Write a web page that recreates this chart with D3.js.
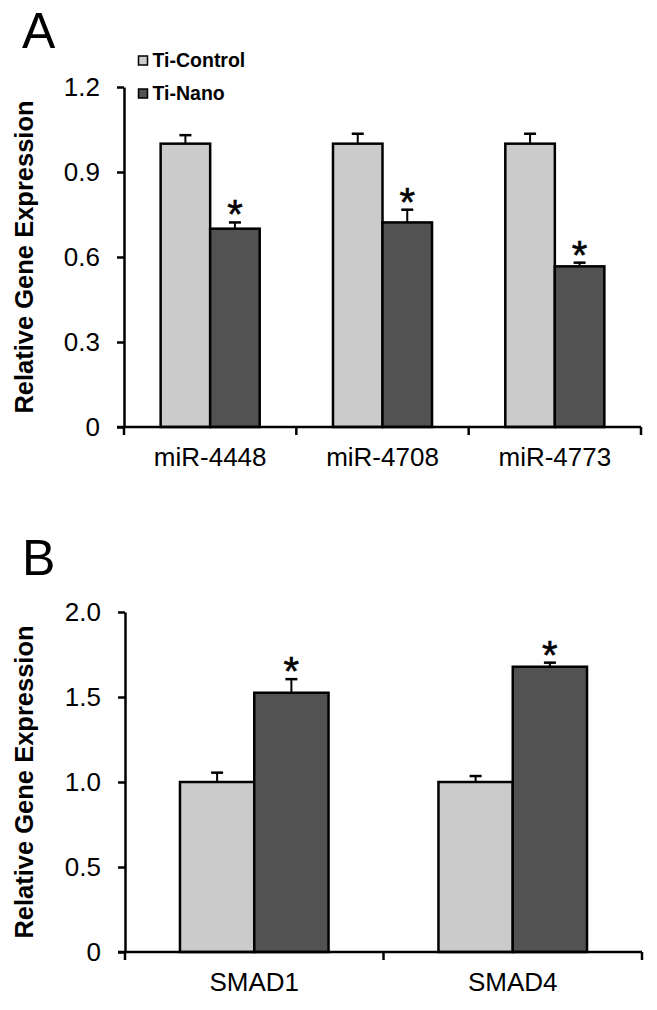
<!DOCTYPE html>
<html><head><meta charset="utf-8">
<script src="https://cdn.jsdelivr.net/npm/d3@7"></script>
<style>
html,body{margin:0;padding:0;background:#fff;}
svg{display:block;font-family:"Liberation Sans",Arial,sans-serif;}
</style></head>
<body>
<svg id="chart" width="657" height="1010"></svg>
<script>
// ---- Data ----
const seriesNames = ["Ti-Control", "Ti-Nano"];
const seriesColors = ["#cbcbcb", "#525252"];

const catsA = ["miR-4448", "miR-4708", "miR-4773"];
const ctrlA = [1.0, 1.0, 1.0];
const ctrlErrA = [0.03, 0.035, 0.035];
const nanoA = [0.70, 0.722, 0.567];
const nanoErrA = [0.022, 0.045, 0.013];
const sigA = [true, true, true];
const ticksA = [0, 0.3, 0.6, 0.9, 1.2];
const tickLabelsA = ["0", "0.3", "0.6", "0.9", "1.2"];

const catsB = ["SMAD1", "SMAD4"];
const ctrlB = [1.0, 1.0];
const ctrlErrB = [0.055, 0.035];
const nanoB = [1.525, 1.678];
const nanoErrB = [0.08, 0.024];
const sigB = [true, true];
const ticksB = [0, 0.5, 1.0, 1.5, 2.0];
const tickLabelsB = ["0", "0.5", "1.0", "1.5", "2.0"];

const yTitle = "Relative Gene Expression";

const svg = d3.select("#chart");

function panel(opts) {
  const {letter, letterY, cats, ctrl, ctrlErr, nano, nanoErr, sig, ticks, tickLabels,
         xRange, yRange, yMax, legend} = opts;
  const g = svg.append("g");
  const x0 = d3.scaleBand().domain(cats).range(xRange).paddingInner(0).paddingOuter(0);
  const x1 = d3.scaleBand().domain(seriesNames).range([0, x0.bandwidth()]).paddingInner(0).paddingOuter(0.74);
  const y = d3.scaleLinear().domain([0, yMax]).range(yRange);

  // panel letter
  g.append("text").attr("x", 22).attr("y", letterY).attr("font-size", 50).attr("fill", "#000").text(letter);

  // y title
  g.append("text")
    .attr("transform", `translate(33,${(yRange[0] + yRange[1]) / 2}) rotate(-90)`)
    .attr("text-anchor", "middle").attr("font-size", 25.5).attr("font-weight", "bold").text(yTitle);

  // bars
  const rows = cats.map((c, i) => ({c, vals: [
    {s: seriesNames[0], v: ctrl[i], e: ctrlErr[i], sig: false, col: seriesColors[0]},
    {s: seriesNames[1], v: nano[i], e: nanoErr[i], sig: sig[i], col: seriesColors[1]}
  ]}));
  const grp = g.selectAll(".grp").data(rows).join("g")
    .attr("transform", d => `translate(${x0(d.c)},0)`);
  const item = grp.selectAll(".it").data(d => d.vals).join("g");
  // error bars
  item.append("line")
    .attr("x1", d => x1(d.s) + x1.bandwidth() / 2).attr("x2", d => x1(d.s) + x1.bandwidth() / 2)
    .attr("y1", d => y(d.v)).attr("y2", d => y(d.v + d.e))
    .attr("stroke", "#000").attr("stroke-width", 2);
  item.append("line")
    .attr("x1", d => x1(d.s) + x1.bandwidth() / 2 - 6).attr("x2", d => x1(d.s) + x1.bandwidth() / 2 + 6)
    .attr("y1", d => y(d.v + d.e)).attr("y2", d => y(d.v + d.e))
    .attr("stroke", "#000").attr("stroke-width", 2.5);
  item.append("rect")
    .attr("x", d => x1(d.s)).attr("width", x1.bandwidth())
    .attr("y", d => y(d.v)).attr("height", d => y(0) - y(d.v))
    .attr("fill", d => d.col).attr("stroke", "#000").attr("stroke-width", 2.5);
  item.filter(d => d.sig).append("text")
    .attr("x", d => x1(d.s) + x1.bandwidth() / 2)
    .attr("y", d => y(d.v + d.e) + 6)
    .attr("text-anchor", "middle").attr("font-size", 40)
    .attr("stroke", "#000").attr("stroke-width", 0.6).text("*");

  // y axis
  const ya = d3.axisLeft(y).tickValues(ticks).tickFormat((d, i) => tickLabels[i])
    .tickSize(7).tickSizeOuter(0).tickPadding(17);
  const yg = g.append("g").attr("transform", `translate(${xRange[0]},0)`).call(ya);
  yg.select(".domain").attr("stroke-width", 2.5);
  yg.selectAll(".tick line").attr("stroke-width", 2.5);
  yg.selectAll(".tick text").attr("font-size", 26).attr("font-family", "Liberation Sans, Arial, sans-serif").attr("fill", "#000");

  // x axis line and category boundary ticks
  g.append("line").attr("x1", xRange[0] - 7).attr("x2", xRange[1])
    .attr("y1", y(0)).attr("y2", y(0)).attr("stroke", "#000").attr("stroke-width", 2.5);
  const bounds = cats.map(c => x0(c)).concat([x0.range()[1]]);
  g.selectAll(".bt").data(bounds).join("line")
    .attr("x1", d => d).attr("x2", d => d).attr("y1", y(0)).attr("y2", y(0) + 8)
    .attr("stroke", "#000").attr("stroke-width", 2.5);
  g.selectAll(".cl").data(cats).join("text")
    .attr("x", d => x0(d) + x0.bandwidth() / 2).attr("y", y(0) + 39)
    .attr("text-anchor", "middle").attr("font-size", 26).text(d => d);

  // legend
  if (legend) {
    const lg = g.append("g");
    seriesNames.forEach((s, i) => {
      const ly = legend.y[i];
      lg.append("rect").attr("x", legend.x).attr("y", ly - 11).attr("width", 9).attr("height", 9)
        .attr("fill", seriesColors[i]).attr("stroke", "#000").attr("stroke-width", 1.5);
      lg.append("text").attr("x", legend.x + 14).attr("y", ly).attr("font-size", 19.5)
        .attr("font-weight", "bold").text(s);
    });
  }
}

panel({letter: "A", letterY: 48, cats: catsA, ctrl: ctrlA, ctrlErr: ctrlErrA, nano: nanoA, nanoErr: nanoErrA,
  sig: sigA, ticks: ticksA, tickLabels: tickLabelsA, xRange: [124, 641], yRange: [427, 87], yMax: 1.2,
  legend: {x: 138.5, y: [67, 100]}});
panel({letter: "B", letterY: 575, cats: catsB, ctrl: ctrlB, ctrlErr: ctrlErrB, nano: nanoB, nanoErr: nanoErrB,
  sig: sigB, ticks: ticksB, tickLabels: tickLabelsB, xRange: [125, 642], yRange: [952, 612], yMax: 2.0,
  legend: null});
</script>
</body></html>
